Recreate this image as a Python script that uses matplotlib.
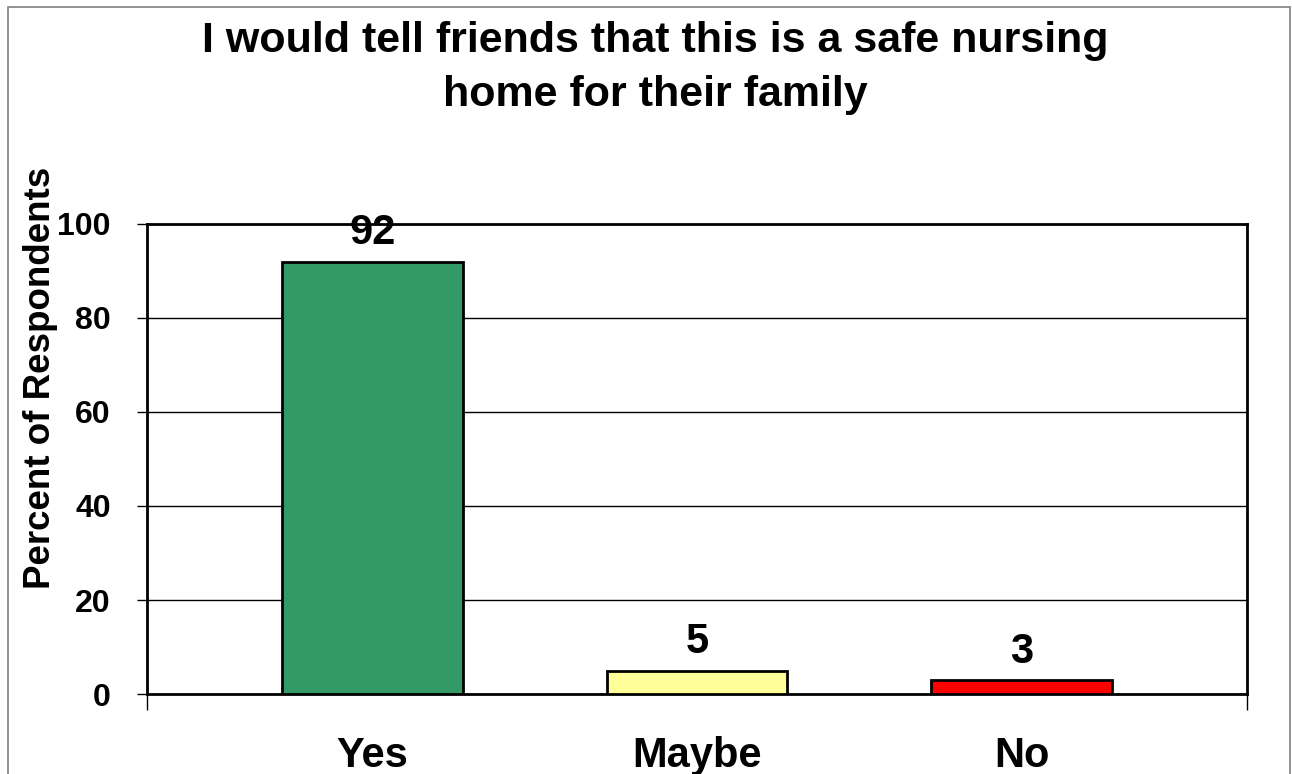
import matplotlib
matplotlib.use('Agg')
import matplotlib.pyplot as plt
from matplotlib.patches import Rectangle

# Dados do gráfico
categorias = ['Yes', 'Maybe', 'No']
percentuais = [92, 5, 3]
cores = ['#339966', '#FFFF99', '#FF0000']
ticks_y = [0, 20, 40, 60, 80, 100]

plt.rcParams['font.family'] = ['Liberation Sans', 'DejaVu Sans']
plt.rcParams['font.weight'] = 'bold'

fig = plt.figure(figsize=(12.92, 7.74), dpi=100)
ax = fig.add_axes([147 / 1292, 1 - 694 / 774, 1100 / 1292, 470 / 774])

posicoes = list(range(len(categorias)))
barras = ax.bar(posicoes, percentuais, width=0.555, color=cores,
                edgecolor='black', linewidth=2, zorder=3)

for barra, valor in zip(barras, percentuais):
    ax.annotate(str(valor), (barra.get_x() + barra.get_width() / 2, valor),
                xytext=(0, 6), textcoords='offset points',
                ha='center', va='bottom', fontsize=30, fontweight='bold', zorder=4)

ax.set_xlim(-0.695, 2.695)
ax.set_ylim(0, 100)
ax.set_yticks(ticks_y)
ax.set_xticks(posicoes)
ax.set_xticklabels(categorias, fontsize=30, fontweight='bold')
ax.tick_params(axis='x', length=0, pad=30)
ax.set_xticks([-0.695, 2.695], minor=True)
ax.tick_params(axis='x', which='minor', length=11.5, width=1, color='black')
ax.tick_params(axis='y', length=7, width=1, pad=19, labelsize=23, color='black')
for lbl in ax.get_yticklabels():
    lbl.set_fontweight('bold')

ax.grid(axis='y', color='black', linewidth=1, zorder=0)
for lado in ['left', 'bottom', 'right', 'top']:
    ax.spines[lado].set_linewidth(2)
    ax.spines[lado].set_color('black')

ax.set_ylabel('Percent of Respondents', fontsize=26.5, fontweight='bold')
ax.yaxis.set_label_coords(-0.081, 0.672)

fig.text(0.507, 1 - 21 / 774,
         'I would tell friends that this is a safe nursing\nhome for their family',
         ha='center', va='top', fontsize=31, fontweight='bold', linespacing=1.45)

# Moldura da figura
fig.patches.append(Rectangle((8 / 1292, -0.01), 1282 / 1292, 1.01 - 7 / 774,
                             transform=fig.transFigure, fill=False,
                             edgecolor='#808080', linewidth=1.2))

fig.savefig('out.png', dpi=100)
